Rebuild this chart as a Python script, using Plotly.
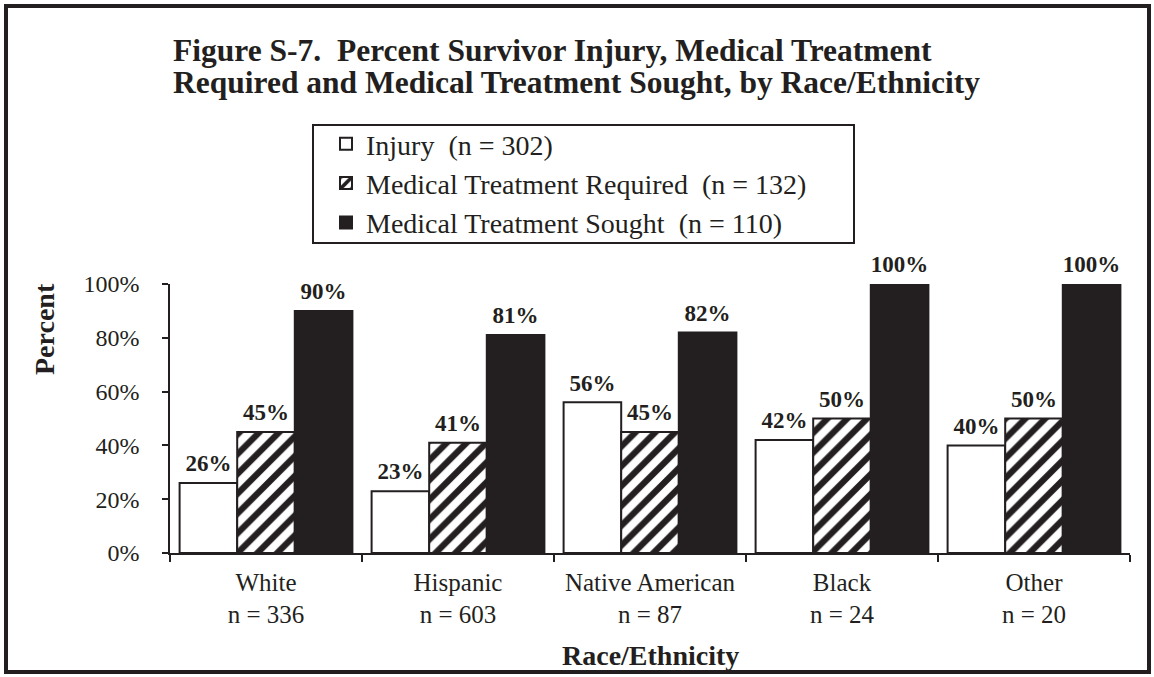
import plotly.graph_objects as go

categories = ["White<br>n = 336", "Hispanic<br>n = 603", "Native American<br>n = 87",
              "Black<br>n = 24", "Other<br>n = 20"]
series_names = ["Injury  (n = 302)", "Medical Treatment Required  (n = 132)",
                "Medical Treatment Sought  (n = 110)"]
injury = [26, 23, 56, 42, 40]
treatment_required = [45, 41, 45, 50, 50]
treatment_sought = [90, 81, 82, 100, 100]
y_ticks = [0, 20, 40, 60, 80, 100]
y_tick_labels = ["0%", "20%", "40%", "60%", "80%", "100%"]

W, H = 1154, 677
L, R, T, B = 170, 24, 284, 124
PW, PH = W - L - R, H - T - B

def px_x(x):
    return (x - L) / PW

def px_y(y):
    return (H - B - y) / PH

FONT = "Liberation Serif, Times New Roman, serif"
BLACK = "#231f20"

fig = go.Figure()
styles = [
    dict(color="white"),
    dict(color="white", pattern=dict(shape="/", fgcolor=BLACK, bgcolor="white", fgopacity=1,
                                      size=14, solidity=0.45, fillmode="replace")),
    dict(color=BLACK),
]
all_vals = [injury, treatment_required, treatment_sought]
for i, (name, vals, st) in enumerate(zip(series_names, all_vals, styles)):
    fig.add_trace(go.Bar(
        x=categories, y=vals, name=name, offsetgroup=str(i),
        marker=dict(line=dict(color=BLACK, width=2), **st),
        hoverinfo="skip",
    ))
for i, vals in enumerate(all_vals):
    fig.add_trace(go.Scatter(
        x=categories, y=vals, mode="markers+text", offsetgroup=str(i),
        marker=dict(size=8, opacity=0), showlegend=False, hoverinfo="skip",
        text=[f"{v}%" for v in vals], textposition="top center",
        textfont=dict(family=FONT, size=23, color=BLACK, weight="bold"),
        cliponaxis=False,
    ))

fig.update_layout(
    width=W, height=H,
    margin=dict(l=L, r=R, t=T, b=B),
    paper_bgcolor="white", plot_bgcolor="white",
    barmode="group", bargap=0.1, bargroupgap=0,
    scattermode="group", scattergap=0.1,
    font=dict(family=FONT, color=BLACK),
    showlegend=True,
    legend=dict(x=px_x(326), y=px_y(119), xanchor="left", yanchor="top",
                bgcolor="rgba(0,0,0,0)", borderwidth=0,
                font=dict(family=FONT, size=28, color=BLACK),
                tracegroupgap=0, itemclick=False),
    xaxis=dict(showline=True, linecolor=BLACK, linewidth=1.5, ticks="outside",
               tickson="boundaries", ticklen=7, tickcolor=BLACK, tickwidth=1.5,
               ticklabelstandoff=6,
               tickfont=dict(family=FONT, size=25, color=BLACK), showgrid=False),
    yaxis=dict(range=[0, 100], tickvals=y_ticks, ticktext=y_tick_labels, showline=True,
               linecolor=BLACK, linewidth=1.5, ticks="outside", ticklen=6,
               tickcolor=BLACK, tickwidth=1.5, showgrid=False, zeroline=False,
               ticklabelstandoff=18,
               tickfont=dict(family=FONT, size=24, color=BLACK)),
)

# Title (left-aligned, two lines)
fig.add_annotation(text="Figure S-7.\u00a0 Percent Survivor Injury, Medical Treatment",
                   xref="paper", yref="paper", x=px_x(171), y=px_y(50),
                   xanchor="left", yanchor="middle", showarrow=False,
                   font=dict(family=FONT, size=31.5, color=BLACK, weight="bold"))
fig.add_annotation(text="Required and Medical Treatment Sought, by Race/Ethnicity",
                   xref="paper", yref="paper", x=px_x(171), y=px_y(82),
                   xanchor="left", yanchor="middle", showarrow=False,
                   font=dict(family=FONT, size=31.5, color=BLACK, weight="bold"))
# Axis titles
fig.add_annotation(text="Percent", xref="paper", yref="paper", x=px_x(44), y=px_y(329),
                   textangle=-90, xanchor="center", yanchor="middle", showarrow=False,
                   font=dict(family=FONT, size=28, color=BLACK, weight="bold"))
fig.add_annotation(text="Race/Ethnicity", xref="paper", yref="paper", x=px_x(650), y=px_y(655),
                   xanchor="center", yanchor="middle", showarrow=False,
                   font=dict(family=FONT, size=28, color=BLACK, weight="bold"))

# Legend box and outer frame
fig.add_shape(type="rect", xref="paper", yref="paper",
              x0=px_x(313), x1=px_x(854), y0=px_y(243), y1=px_y(125),
              line=dict(color=BLACK, width=2), fillcolor="rgba(0,0,0,0)", layer="below")
fig.add_shape(type="rect", xref="paper", yref="paper",
              x0=px_x(6), x1=px_x(1149), y0=px_y(672), y1=px_y(6),
              line=dict(color=BLACK, width=4), fillcolor="rgba(0,0,0,0)")

fig.write_html("out.html", config={"displayModeBar": False},
               post_script="document.body.style.margin='0';")
